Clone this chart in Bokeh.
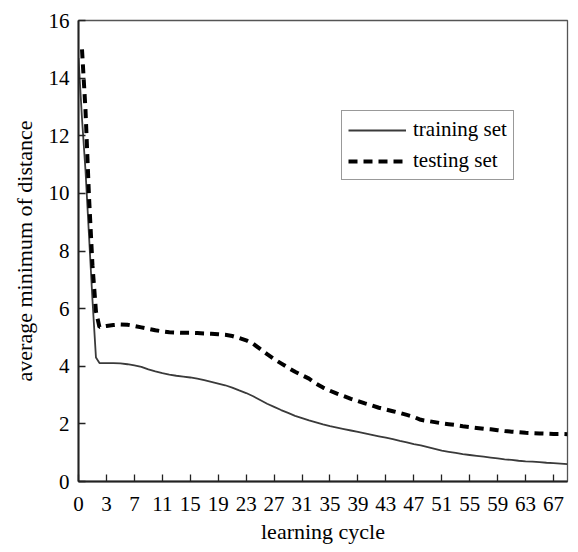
from bokeh.plotting import figure
from bokeh.models import Range1d, FixedTicker
from bokeh.embed import file_html
from bokeh.resources import INLINE

nan = float("nan")

# x positions along the category axis (cycle index)
cycle_pos = [0, 0.5, 1, 1.5, 2, 2.5] + list(range(3, 71))

training_set = [14.7, 12.6, 10.8, 8.55, 6.3, 4.3,
                4.11, 4.11, 4.11, 4.10, 4.07, 4.03, 3.98, 3.89, 3.82, 3.76,
                3.71, 3.67, 3.64, 3.61, 3.57, 3.52, 3.46, 3.40, 3.34, 3.26,
                3.16, 3.07, 2.96, 2.83, 2.70, 2.59, 2.48, 2.38, 2.28, 2.20,
                2.12, 2.05, 1.98, 1.92, 1.87, 1.82, 1.77, 1.72, 1.67, 1.62,
                1.57, 1.52, 1.47, 1.41, 1.36, 1.30, 1.25, 1.19, 1.13, 1.07,
                1.03, 0.99, 0.95, 0.92, 0.89, 0.86, 0.83, 0.80, 0.77, 0.75,
                0.72, 0.70, 0.69, 0.67, 0.65, 0.64, 0.62, 0.60]

testing_set = [nan, 15.0, 12.9, 9.9, 7.5, 5.9,
               5.36, 5.40, 5.43, 5.45, 5.44, 5.40, 5.35, 5.30, 5.25, 5.21,
               5.18, 5.17, 5.16, 5.16, 5.15, 5.14, 5.13, 5.11, 5.09, 5.05,
               4.98, 4.90, 4.78, 4.60, 4.42, 4.25, 4.10, 3.95, 3.81, 3.69,
               3.57, 3.40, 3.26, 3.15, 3.05, 2.96, 2.87, 2.79, 2.71, 2.64,
               2.56, 2.50, 2.44, 2.38, 2.31, 2.24, 2.14, 2.10, 2.06, 2.02,
               1.99, 1.96, 1.92, 1.89, 1.86, 1.83, 1.81, 1.78, 1.75, 1.73,
               1.71, 1.69, 1.68, 1.67, 1.66, 1.65, 1.65, 1.64]

x_tick_pos = list(range(0, 69, 4))
x_tick_labels = ["0", "3", "7", "11", "15", "19", "23", "27", "31", "35",
                 "39", "43", "47", "51", "55", "59", "63", "67"]
y_ticks = [0, 2, 4, 6, 8, 10, 12, 14, 16]

FONT = "Liberation Serif"

p = figure(frame_width=489, frame_height=461,
           min_border_left=78, min_border_right=9,
           min_border_top=20, min_border_bottom=71,
           x_range=Range1d(0, 70), y_range=Range1d(0, 16),
           output_backend="svg", toolbar_location=None,
           background_fill_color="white", border_fill_color="white")

p.line(cycle_pos, training_set, line_color="#3a3a3a", line_width=1.8,
       legend_label="training set")
p.line(cycle_pos, testing_set, line_color="black", line_width=4,
       line_dash="9 6", legend_label="testing set")

p.grid.visible = False
p.outline_line_color = "#555555"
p.outline_line_width = 1.3

p.xaxis.ticker = FixedTicker(ticks=x_tick_pos)
p.xaxis.major_label_overrides = {pos: lab for pos, lab in zip(x_tick_pos, x_tick_labels)}
p.yaxis.ticker = FixedTicker(ticks=y_ticks)

for ax in (p.xaxis[0], p.yaxis[0]):
    ax.axis_line_color = "#222222"
    ax.axis_line_width = 2
    ax.major_tick_in = 7
    ax.major_tick_out = 0
    ax.major_tick_line_color = "#222222"
    ax.major_tick_line_width = 1.3
    ax.minor_tick_line_color = None
    ax.major_label_text_font = FONT
    ax.major_label_text_font_size = "21px"
    ax.major_label_text_color = "black"
    ax.axis_label_text_font = FONT
    ax.axis_label_text_font_size = "22px"
    ax.axis_label_text_font_style = "normal"
    ax.axis_label_text_color = "black"

p.xaxis.axis_label = "learning cycle"
p.yaxis.axis_label = "average minimum of distance"
p.xaxis.major_label_standoff = 15
p.xaxis.axis_label_standoff = 5
p.yaxis.major_label_standoff = 9
p.yaxis.axis_label_standoff = 9

lg = p.legend[0]
lg.location = (263, 301)
lg.border_line_color = "#333333"
lg.border_line_width = 1.3
lg.background_fill_color = "white"
lg.background_fill_alpha = 1
lg.label_text_font = FONT
lg.label_text_font_size = "21px"
lg.label_text_color = "black"
lg.glyph_width = 58
lg.glyph_height = 22
lg.label_height = 22
lg.label_standoff = 7
lg.padding = 6
lg.spacing = 6
lg.margin = 0

open("out.html", "w").write(file_html(p, INLINE))
